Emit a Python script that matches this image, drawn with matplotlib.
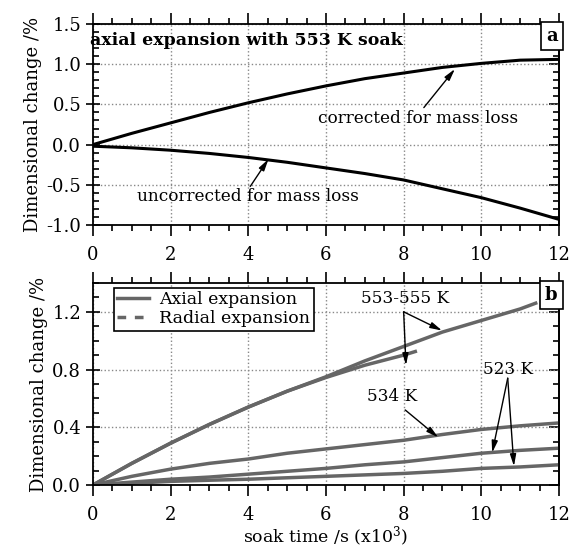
import numpy as np
import matplotlib
matplotlib.use("Agg")
import matplotlib.pyplot as plt
from matplotlib.lines import Line2D
from matplotlib.ticker import MultipleLocator

plt.rcParams['font.family'] = ['DejaVu Serif']
plt.rcParams['mathtext.fontset'] = 'dejavuserif'

# panel a: 553 K soak, axial
t_a = [0, 1, 2, 3, 4, 5, 6, 7, 8, 9, 10, 11, 12]
corrected = [0.0, 0.14, 0.27, 0.40, 0.52, 0.63, 0.73, 0.82, 0.89, 0.96, 1.01, 1.05, 1.06]
uncorrected = [-0.02, -0.04, -0.07, -0.11, -0.16, -0.22, -0.29, -0.36, -0.44, -0.55, -0.66, -0.79, -0.93]

# panel b
t_553_ax = [0, 1, 2, 3, 4, 5, 6, 7, 8, 9, 10, 11, 11.4]
ax_553 = [0.0, 0.15, 0.29, 0.42, 0.54, 0.65, 0.75, 0.86, 0.96, 1.06, 1.14, 1.22, 1.26]
t_553_rad = [0, 1, 2, 3, 4, 5, 6, 7, 8, 8.3]
rad_553 = [0.0, 0.15, 0.29, 0.42, 0.54, 0.65, 0.745, 0.83, 0.90, 0.925]
t_b = [0, 1, 2, 3, 4, 5, 6, 7, 8, 9, 10, 11, 12]
ax_534 = [0.0, 0.06, 0.11, 0.15, 0.18, 0.22, 0.25, 0.28, 0.31, 0.35, 0.385, 0.41, 0.43]
ax_523 = [0.0, 0.02, 0.04, 0.055, 0.075, 0.095, 0.115, 0.14, 0.16, 0.19, 0.22, 0.24, 0.255]
rad_523 = [0.0, 0.012, 0.025, 0.033, 0.04, 0.05, 0.06, 0.07, 0.08, 0.095, 0.115, 0.125, 0.14]

grey = '#666666'
arrow = dict(arrowstyle='-|>,head_width=0.18,head_length=0.7', color='black', lw=1.0,
             shrinkA=0, shrinkB=0)


def style_axes(ax, ymaj, ymin):
    ax.set_xlim(0, 12)
    ax.xaxis.set_major_locator(MultipleLocator(2))
    ax.xaxis.set_minor_locator(MultipleLocator(0.5))
    ax.yaxis.set_major_locator(MultipleLocator(ymaj))
    ax.yaxis.set_minor_locator(MultipleLocator(ymin))
    ax.tick_params(axis='x', which='both', top=True, direction='out', labelsize=13, width=1.2)
    ax.tick_params(axis='x', which='major', length=8, pad=7)
    ax.tick_params(axis='x', which='minor', length=4)
    ax.tick_params(axis='y', which='major', direction='inout', length=10, width=1.2, labelsize=13)
    ax.tick_params(axis='y', which='minor', direction='in', length=4, width=1.2)
    sec = ax.secondary_yaxis('right')
    sec.yaxis.set_major_locator(MultipleLocator(ymaj))
    sec.yaxis.set_minor_locator(MultipleLocator(ymin))
    sec.tick_params(which='both', direction='in', labelright=False, width=1.2)
    sec.tick_params(which='major', length=7)
    sec.tick_params(which='minor', length=4)
    sec.spines['right'].set_linewidth(1.3)
    for s in ax.spines.values():
        s.set_linewidth(1.3)
    ax.grid(True, which='major', linestyle=':', color='#888888', lw=1.0)
    ax.set_ylabel('Dimensional change /%', fontsize=13, labelpad=3)


fig = plt.figure(figsize=(5.69, 5.5), dpi=100)
ax1 = fig.add_axes([0.1634, 0.5909, 0.819, 0.3655])
ax2 = fig.add_axes([0.1634, 0.1182, 0.819, 0.3673])

# panel a
ax1.plot(t_a, corrected, color='black', lw=2.2)
ax1.plot(t_a, uncorrected, color='black', lw=2.2)
style_axes(ax1, 0.5, 0.1)
ax1.set_ylim(-1.0, 1.5)
ax1.yaxis.set_major_formatter(lambda v, p: f'{v:.1f}')
ax1.text(-0.08, 1.29, 'axial expansion with 553 K soak', fontsize=12.5, fontweight='bold',
         ha='left', va='center')
ax1.text(0.997, 0.985, 'a', transform=ax1.transAxes, fontsize=13, fontweight='bold',
         ha='right', va='top',
         bbox=dict(boxstyle='square,pad=0.3', fc='white', ec='black', lw=1.2))
ax1.text(8.36, 0.33, 'corrected for mass loss', fontsize=12.2, ha='center', va='center')
ax1.annotate('', xy=(9.32, 0.94), xytext=(8.52, 0.46), arrowprops=arrow)
ax1.text(3.98, -0.64, 'uncorrected for mass loss', fontsize=12.2, ha='center', va='center')
ax1.annotate('', xy=(4.52, -0.18), xytext=(4.05, -0.52), arrowprops=arrow)

# panel b
ax2.plot(t_553_ax, ax_553, color=grey, lw=2.5)
ax2.plot(t_553_rad, rad_553, color=grey, lw=2.5)
ax2.plot(t_b, ax_534, color=grey, lw=2.5)
ax2.plot(t_b, ax_523, color=grey, lw=2.5)
ax2.plot(t_b, rad_523, color=grey, lw=2.5)
style_axes(ax2, 0.4, 0.1)
ax2.set_ylim(0, 1.4)
ax2.yaxis.set_major_formatter(lambda v, p: f'{v:.1f}')
ax2.set_xlabel('soak time /s (x10$^3$)', fontsize=12.5, labelpad=1)
ax2.text(0.997, 0.985, 'b', transform=ax2.transAxes, fontsize=13, fontweight='bold',
         ha='right', va='top',
         bbox=dict(boxstyle='square,pad=0.3', fc='white', ec='black', lw=1.2))
ax2.text(8.05, 1.29, '553-555 K', fontsize=12.2, ha='center', va='center')
ax2.annotate('', xy=(8.99, 1.07), xytext=(8.0, 1.2), arrowprops=arrow)
ax2.annotate('', xy=(8.06, 0.83), xytext=(8.0, 1.2), arrowprops=arrow)
ax2.text(7.7, 0.61, '534 K', fontsize=12.2, ha='center', va='center')
ax2.annotate('', xy=(8.89, 0.33), xytext=(8.04, 0.52), arrowprops=arrow)
ax2.text(10.7, 0.80, '523 K', fontsize=12.2, ha='center', va='center')
ax2.annotate('', xy=(10.28, 0.224), xytext=(10.68, 0.74), arrowprops=arrow)
ax2.annotate('', xy=(10.84, 0.13), xytext=(10.68, 0.74), arrowprops=arrow)

handles = [Line2D([], [], color=grey, lw=2.5),
           Line2D([], [], color=grey, lw=2.5, linestyle=(0, (2.5, 2.5)))]
leg = ax2.legend(handles, ['Axial expansion', 'Radial expansion'], loc='upper left',
                 bbox_to_anchor=(0.045, 0.975), fontsize=12.5, fancybox=False,
                 edgecolor='black', framealpha=1, borderpad=0.2, labelspacing=0.1,
                 handlelength=1.8, handletextpad=0.6, borderaxespad=0)
leg.get_frame().set_linewidth(1.2)

fig.savefig('out.png', dpi=100)
